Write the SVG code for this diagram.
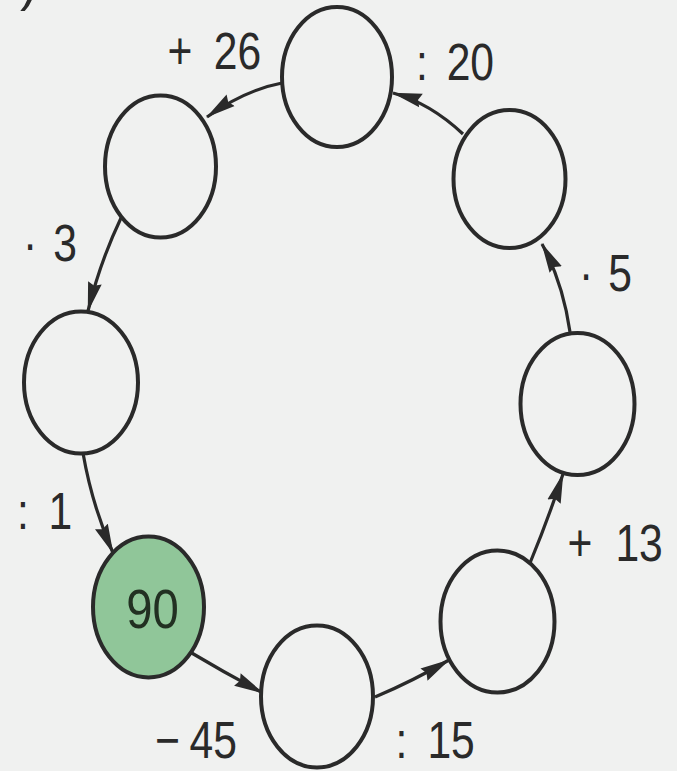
<svg xmlns="http://www.w3.org/2000/svg" width="677" height="771" viewBox="0 0 677 771">
  <defs>
    <style>
      .node { fill: #f0f1f0; stroke: #2a2a2a; stroke-width: 4; }
      .start { fill: #90c699; }
      .conn { fill: none; stroke: #2a2a2a; stroke-width: 3.2; marker-end: url(#arrow); }
      .lbl { font-family: "Liberation Sans", Arial, sans-serif; font-size: 52px; fill: #2a2a2a; }
      .val { font-family: "Liberation Sans", Arial, sans-serif; font-size: 55px; fill: #223022; text-anchor: middle; }
    </style>
    <marker id="arrow" markerUnits="userSpaceOnUse" markerWidth="30" markerHeight="15" viewBox="0 0 30 15" refX="29" refY="7.5" orient="auto">
      <path d="M0,0.5 L30,7.5 L0,14.5 L3,7.5 z" fill="#2a2a2a"/>
    </marker>
  </defs>

  <rect x="0" y="0" width="677" height="771" fill="#f0f1f0"/>

  <text class="lbl" x="20" y="0">)</text>

  <g id="connectors">
    <path id="c-plus26" class="conn" d="M282,83 Q245,90 207,117"/>
    <path id="c-div20" class="conn" d="M463,134 Q430,103 393,93"/>
    <path id="c-mul5" class="conn" d="M570,332 Q563,283 542,244"/>
    <path id="c-plus13" class="conn" d="M530,563 Q549,517 563,474"/>
    <path id="c-div15" class="conn" d="M375,697 Q413,681 449,660"/>
    <path id="c-minus45" class="conn" d="M190,652 Q227,674 263,693"/>
    <path id="c-div1" class="conn" d="M83,453 Q92,505 113,553"/>
    <path id="c-mul3" class="conn" d="M121,218 Q100,262 88,311"/>
  </g>

  <g id="labels">
    <text class="lbl" transform="translate(167.5,69) scale(0.82,1)">+ <tspan dx="11.5">26</tspan></text>
    <text class="lbl" transform="translate(416,80) scale(0.82,1)">: <tspan dx="8.5">20</tspan></text>
    <text class="lbl" transform="translate(23,261) scale(0.82,1)">· <tspan dx="5.2">3</tspan></text>
    <text class="lbl" transform="translate(17,529) scale(0.82,1)">: <tspan dx="9.6">1</tspan></text>
    <text class="lbl" transform="translate(579,291) scale(0.82,1)">· <tspan dx="4">5</tspan></text>
    <text class="lbl" transform="translate(567.5,561) scale(0.82,1)">+ <tspan dx="13.6">13</tspan></text>
    <text class="lbl" transform="translate(155,758) scale(0.82,1)">− <tspan dx="-2.6">45</tspan></text>
    <text class="lbl" transform="translate(395.6,758) scale(0.82,1)">: <tspan dx="9.9">15</tspan></text>
  </g>

  <g id="node-top">
    <ellipse class="node" cx="337" cy="77" rx="55" ry="70"/>
  </g>
  <g id="node-upper-left">
    <ellipse class="node" cx="160.5" cy="166.5" rx="55.5" ry="71"/>
  </g>
  <g id="node-left">
    <ellipse class="node" cx="81" cy="382.5" rx="57" ry="71"/>
  </g>
  <g id="node-start">
    <ellipse class="node start" cx="148.5" cy="607" rx="55.5" ry="70.5"/>
    <text class="val" transform="translate(152.5,628) scale(0.86,1)">90</text>
  </g>
  <g id="node-bottom">
    <ellipse class="node" cx="317" cy="696.5" rx="56" ry="71"/>
  </g>
  <g id="node-bottom-right">
    <ellipse class="node" cx="497.5" cy="621.5" rx="57" ry="71"/>
  </g>
  <g id="node-right">
    <ellipse class="node" cx="577.5" cy="404" rx="57" ry="71"/>
  </g>
  <g id="node-upper-right">
    <ellipse class="node" cx="509.5" cy="179" rx="56" ry="69"/>
  </g>
</svg>
